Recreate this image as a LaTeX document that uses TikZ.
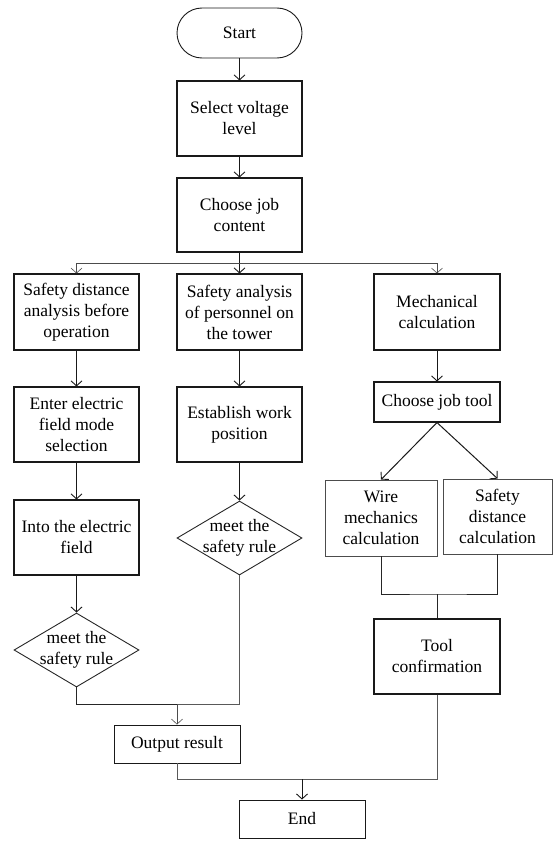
\documentclass[tikz,border=0pt]{standalone}
\usepackage{fontspec}
\setmainfont{Liberation Serif}
\usetikzlibrary{shapes.geometric,arrows.meta}
\begin{document}
\begin{tikzpicture}[x=1pt,y=-1pt,
  every node/.style={font=\fontsize{17.5}{21}\selectfont},
  box/.style={draw=black!90,line width=1.1pt,fill=white,align=center,inner sep=0pt,minimum width=125pt,minimum height=75pt},
  lbox/.style={box,draw=black!70,line width=0.8pt},
  term/.style={box,rounded corners=25pt,line width=0.9pt,minimum height=50pt},
  dia/.style={draw=black!85,line width=0.9pt,shape=diamond,inner sep=0pt,minimum width=125pt,minimum height=74pt},
  txt/.style={align=center,inner sep=0pt},
  arr/.style={line width=1pt,black!90,-{Straight Barb[length=5pt,width=11pt,line width=0.9pt]}},
  tarr/.style={line width=0.6pt,black!70,-{Straight Barb[length=5pt,width=11pt,line width=0.6pt]}},
  ln/.style={line width=1pt,black!85},
  tln/.style={line width=0.6pt,black!65}]
\useasboundingbox (0,0) rectangle (553,843);
% nodes
\node[term] (start) at (239.5,33) {Start};
\node[box] (sel) at (239.5,118.5) {Select voltage\\level};
\node[box,minimum height=74pt] (job) at (239.5,215) {Choose job\\content};
\node[box,minimum height=76pt] (l1) at (76.5,312) {Safety distance\\analysis before\\operation};
\node[box,minimum height=76pt] (c1) at (239.5,312) {Safety analysis\\of personnel on\\the tower};
\node[box,minimum height=76pt,minimum width=126pt] (r1) at (437,312) {Mechanical\\calculation};
\node[box] (l2) at (76.5,424.5) {Enter electric\\field mode\\selection};
\node[box] (c2) at (239.5,424.5) {Establish work\\position};
\node[box,minimum height=40pt,minimum width=126pt] (r2) at (437,402) {Choose job tool};
\node[box] (l3) at (76.5,537.5) {Into the electric\\field};
\node[dia] (d1) at (76.5,650) {};
\node[txt] (d1t) at (d1.center) {meet the\\safety rule};
\node[dia] (d2) at (239.5,538) {};
\node[txt] (d2t) at (d2.center) {meet the\\safety rule};
\node[lbox,minimum width=112pt,minimum height=76pt] (wire) at (381,518) {Wire\\mechanics\\calculation};
\node[lbox,minimum width=109pt] (sdc) at (497.5,516.5) {Safety\\distance\\calculation};
\node[box,minimum width=126pt] (tc) at (437,656.5) {Tool\\confirmation};
\node[box,minimum height=38pt,minimum width=126pt,line width=0.9pt] (out) at (177,744) {Output result};
\node[box,minimum height=38pt,minimum width=126pt,line width=0.9pt] (end) at (302,819) {End};
% junction coordinates
\coordinate (br) at (239.5,263);
\coordinate (j2) at (437,594);
\coordinate (j1) at (177,704);
\coordinate (j3) at (302,779);
% connectors
\draw[arr] (start) -- (sel);
\draw[arr] (sel) -- (job);
\draw[arr] (job) -- (c1);
\draw[tln] (l1.north |- br) -- (r1.north |- br);
\draw[tarr] (br) -| (l1.north);
\draw[tarr] (br) -| (r1.north);
\draw[arr] (l1) -- (l2);
\draw[arr] (l2) -- (l3);
\draw[arr] (l3) -- (d1);
\draw[arr] (c1) -- (c2);
\draw[arr] (c2) -- (d2);
\draw[arr] (r1) -- (r2);
\draw[arr] (r2.south) -- (wire.north);
\draw[arr] (r2.south) -- (sdc.north);
\draw[ln] (wire.south) |- (j2) -| (sdc.south);
\draw[ln] (j2) -- (tc.north);
\draw[ln] (d1.south) |- (j1);
\draw[tln] (d2.south) |- (j1);
\draw[tarr] (j1) -- (out.north);
\draw[tln] (out.south) |- (j3);
\draw[tln] (tc.south) |- (j3);
\draw[arr] (j3) -- (end.north);
\end{tikzpicture}
\end{document}
